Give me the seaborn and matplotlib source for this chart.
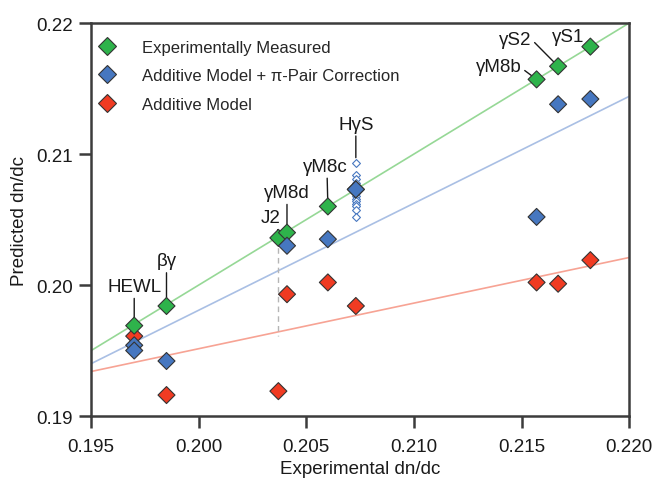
import pandas as pd
import matplotlib
matplotlib.use("Agg")
import matplotlib.pyplot as plt
import seaborn as sns

# values
proteins = ["HEWL", "βγ", "J2", "γM8d", "γM8c", "HγS", "γM8b", "γS2", "γS1"]
exp_x = [0.1970, 0.1985, 0.2037, 0.2041, 0.2060, 0.2073, 0.2157, 0.2167, 0.2182]
exp_y = [0.1969, 0.1984, 0.2036, 0.2040, 0.2060, 0.2073, 0.2157, 0.2167, 0.2182]

# additive model + pi-pair correction (J2 not shown)
pipair_x = [0.1970, 0.1970, 0.1985, 0.2041, 0.2060, 0.2073, 0.2157, 0.2167, 0.2182]
pipair_y = [0.1954, 0.1950, 0.1942, 0.2030, 0.2035, 0.2073, 0.2052, 0.2138, 0.2142]

# additive model
add_x = [0.1970, 0.1985, 0.2037, 0.2041, 0.2060, 0.2073, 0.2157, 0.2167, 0.2182]
add_y = [0.1961, 0.1916, 0.1919, 0.1993, 0.2002, 0.1984, 0.2002, 0.2001, 0.2019]

# HgS variants (small open diamonds)
hgs_var_y = [0.2093, 0.2084, 0.2081, 0.2078, 0.2075, 0.2072, 0.2070, 0.2068,
             0.2066, 0.2064, 0.2062, 0.2060, 0.2057, 0.2052]

# trend lines, end points
fit_x = [0.195, 0.220]
ideal_y = [0.195, 0.220]
pipair_fit_y = [0.1940, 0.2144]
add_fit_y = [0.1934, 0.2021]

# J2 dashed drop line
j2_drop_y = [0.2036, 0.1961]

lab_exp = "Experimentally Measured"
lab_pi = "Additive Model + π-Pair Correction"
lab_add = "Additive Model"

sns.set_style("ticks")
plt.rcParams["font.family"] = ["Liberation Sans", "DejaVu Sans"]

green = "#2eb34b"
blue = "#4677c0"
red = "#f03b22"
edge = "#333333"
axcol = "#3c3c3c"

# red drawn first, then green, blue on top
df = pd.concat([
    pd.DataFrame({"x": add_x, "y": add_y, "series": lab_add}),
    pd.DataFrame({"x": exp_x, "y": exp_y, "series": lab_exp}),
    pd.DataFrame({"x": pipair_x, "y": pipair_y, "series": lab_pi}),
], ignore_index=True)

fig, ax = plt.subplots(figsize=(6.56, 4.81), dpi=100)
fig.subplots_adjust(left=0.139, right=0.959, top=0.950, bottom=0.133)

sns.lineplot(x=fit_x, y=ideal_y, ax=ax, color="#96d896", lw=1.2, zorder=1)
sns.lineplot(x=fit_x, y=pipair_fit_y, ax=ax, color="#a9bfe4", lw=1.2, zorder=1)
sns.lineplot(x=fit_x, y=add_fit_y, ax=ax, color="#f7a394", lw=1.2, zorder=1)
ax.plot([exp_x[2], exp_x[2]], j2_drop_y, color="#b5b5b5", lw=1, ls=(0, (4, 3)), zorder=1)

# open diamonds for HgS variants
ax.scatter([exp_x[5]] * len(hgs_var_y), hgs_var_y, marker="D", s=16,
           facecolor="white", edgecolor=blue, linewidth=0.8, zorder=3)

sns.scatterplot(data=df, x="x", y="y", hue="series",
                hue_order=[lab_exp, lab_pi, lab_add],
                palette={lab_exp: green, lab_pi: blue, lab_add: red},
                marker="D", s=75, edgecolor=edge, linewidth=0.8, ax=ax, zorder=4)

# labels: text offset from point (pixels), arrow start on text box
offsets = {
    "HEWL": (0, 39, (0.5, 0)),
    "βγ": (0, 45, (0.5, 0)),
    "J2": (-8, 20, (0.85, 0)),
    "γM8d": (0, 40, (0.5, 0)),
    "γM8c": (-3, 40, (0.55, 0)),
    "HγS": (0, 39, (0.5, 0)),
    "γM8b": (-38, 13, (1, 0.4)),
    "γS2": (-43, 27, (1, 0.5)),
    "γS1": (-22, 10, (1, 0.45)),
}
for name, x, y in zip(proteins, exp_x, exp_y):
    dx, dy, rel = offsets[name]
    if name == "HγS":
        y = max(hgs_var_y)
    ax.annotate(name, xy=(x, y), xytext=(dx * 0.72, dy * 0.72),
                textcoords="offset points", ha="center", va="center",
                fontsize=13.5, color="#1a1a1a", zorder=2,
                arrowprops=dict(arrowstyle="-", color="#1a1a1a", lw=1,
                                relpos=rel, shrinkA=0, shrinkB=4 if name == "HγS" else 0))

ax.set_xlim(0.195, 0.220)
ax.set_ylim(0.19, 0.22)
ax.set_xticks([0.195, 0.200, 0.205, 0.210, 0.215, 0.220])
ax.set_xticklabels(["0.195", "0.200", "0.205", "0.210", "0.215", "0.220"])
ax.set_yticks([0.19, 0.20, 0.21, 0.22])
ax.set_yticklabels(["0.19", "0.20", "0.21", "0.22"])
ax.set_xlabel("Experimental dn/dc", fontsize=13.5, color="#1a1a1a", labelpad=4)
ax.set_ylabel("Predicted dn/dc", fontsize=13.5, color="#1a1a1a", labelpad=6)
ax.tick_params(labelsize=13.5, labelcolor="#1a1a1a", color=axcol, width=1.8, length=8.5)
ax.tick_params(axis="x", pad=7)
ax.tick_params(axis="y", pad=4.5)
for sp in ax.spines.values():
    sp.set_visible(True)
    sp.set_color(axcol)
    sp.set_linewidth(1.8)

sns.move_legend(ax, "upper left", bbox_to_anchor=(0.0143, 0.958), frameon=False,
                title=None, fontsize=12, borderaxespad=0, borderpad=0,
                handlelength=1.0, handletextpad=1.6, labelspacing=0.82)

fig.savefig("out.png", dpi=100)
